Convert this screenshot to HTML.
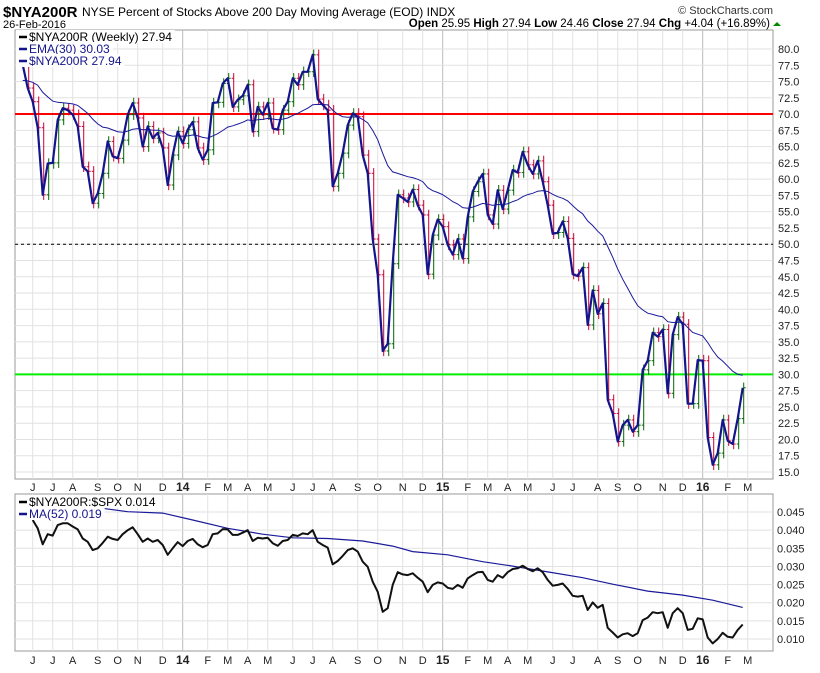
<!DOCTYPE html>
<html><head><meta charset="utf-8"><style>
body{margin:0;background:#fff;width:820px;height:668px;overflow:hidden;font-family:"Liberation Sans",sans-serif}
svg text{font-family:"Liberation Sans",sans-serif}
</style></head><body>
<svg id="c" width="820" height="668" xmlns="http://www.w3.org/2000/svg">
<text x="3" y="17" font-size="15" font-weight="bold">$NYA200R</text>
<text x="82" y="16" font-size="12">NYSE Percent of Stocks Above 200 Day Moving Average (EOD) INDX</text>
<text x="3" y="28" font-size="11">26-Feb-2016</text>
<text x="773" y="14" font-size="11" text-anchor="end" fill="#333">© StockCharts.com</text>
<text x="770" y="27" font-size="11.5" text-anchor="end"><tspan font-weight="bold">Open</tspan> 25.95 <tspan font-weight="bold">High</tspan> 27.94 <tspan font-weight="bold">Low</tspan> 24.46 <tspan font-weight="bold">Close</tspan> 27.94 <tspan font-weight="bold">Chg</tspan> +4.04 (+16.89%)</text>
<polygon points="773,26 777,22 781,26" fill="#080"/>
<g id="main"></g><g id="low"></g>
</svg>
<script>
const closes=[77.6,74.0,71.9,67.9,57.6,62.4,62.5,69.1,70.9,70.6,69.9,68.1,61.9,61.2,56.3,57.8,60.9,65.8,63.5,63.2,66.0,69.9,71.7,69.4,65.0,68.1,66.3,67.1,64.8,59.1,63.7,67.3,65.5,67.6,68.8,64.8,
63.0,64.5,71.7,71.8,74.7,75.5,71.1,72.2,72.8,74.5,67.3,71.1,69.9,71.7,67.8,67.6,70.6,71.9,75.5,74.5,76.5,76.5,79.1,72.3,71.4,70.6,58.9,60.9,64.0,68.3,70.1,69.6,63.7,60.9,50.8,
45.3,33.6,34.7,47.0,57.6,57.1,56.5,58.4,56.0,54.5,45.4,51.4,53.8,52.7,49.9,48.4,50.8,47.8,54.2,58.1,59.6,60.8,54.5,53.1,58.3,55.4,58.3,61.4,61.0,64.2,62.2,60.8,62.8,59.6,56.0,51.6,51.8,
53.5,50.9,45.4,45.1,46.4,37.6,42.9,39.3,40.9,26.1,24.0,19.7,22.2,23.0,21.2,22.2,30.7,32.1,36.4,35.8,36.9,27.1,36.1,38.8,37.7,25.5,25.5,32.2,32.1,
20.3,16.1,17.9,23.0,19.8,19.3,23.2,27.94];
const ratio=[null,null,.0428,.0405,.0361,.0389,.0385,.0414,.0419,.0419,.0410,.0402,.0377,.0368,.0345,.0350,.0365,.0382,.0376,.0373,.0389,.0400,.0408,.0389,.0368,.0377,.0368,.0373,.0359,.0332,.0350,.0367,.0356,.0370,.0376,.0361,.0353,.0359,.0389,.0391,.0403,.0402,.0387,.0387,.0393,.0400,.0370,.0379,.0377,.0379,.0364,.0357,.0370,.0373,.0387,.0384,.0391,.0389,.0400,.0368,.0359,.0352,.0306,.0315,.0329,.0345,.0350,.0341,.0313,.0299,.0258,.0230,.0175,.0185,
.0249,.0284,.0278,.0276,.0281,.0269,.0258,.0229,.0249,.0256,.0253,.0241,.0238,.0249,.0241,.0267,.0276,.0284,.0285,.0263,.0258,.0276,.0269,.0284,.0293,.0295,.0302,.0293,.0287,.0295,.0284,.0263,.0247,.0249,.0253,.0238,.0219,.0217,.0219,.0180,.0201,.0186,.0194,.0131,.0118,.0104,.0113,.0116,.0108,.0116,.0152,.0159,.0174,.0171,.0174,.0131,.0171,.0185,.0171,.0125,.0128,.0157,.0154,.0104,.0088,.0100,.0117,.0106,.0104,.0125,.0140];
const maIdx=[15,21,28,34,41,48,54,61,68,74,78,85,92,98,105,112,118,125,132,138,144];
const maVal=[.0462,.0451,.0447,.0428,.0405,.0389,.0379,.0377,.0370,.0356,.0341,.0332,.0313,.0301,.0285,.0269,.0251,.0232,.0221,.0207,.0187];
const mainTicks=[15,17.5,20,22.5,25,27.5,30,32.5,35,37.5,40,42.5,45,47.5,50,52.5,55,57.5,60,62.5,65,67.5,70,72.5,75,77.5,80];
const lowTicks=[.010,.015,.020,.025,.030,.035,.040,.045];
const monthLetters=["J","F","M","A","M","J","J","A","S","O","N","D"];
const NS="http://www.w3.org/2000/svg";
const L=15,R=773,MT=30,MB=479,LT=494,LB=651;
const N=closes.length;
const xs=i=>22.7+i*(720/(N-1));
const ym=v=>472-(v-15)/2.5*16.27;
const yl=v=>639-(v-0.010)/0.005*18.14;
function el(p,t,a){const e=document.createElementNS(NS,t);for(const k in a)e.setAttribute(k,a[k]);p.appendChild(e);return e;}
const gM=document.getElementById('main'),gL=document.getElementById('low');
const f1=el(gM,'rect',{x:L,y:MT,width:R-L,height:MB-MT,fill:'#fff',stroke:'#999'});


const f2=el(gL,'rect',{x:L,y:LT,width:R-L,height:LB-LT,fill:'#fff',stroke:'#999'});


const end=new Date(2016,1,26);
let prevM=-1;
for(let i=0;i<N+4;i++){
  const d=new Date(end.getTime()-(N-1-i)*7*86400000);
  const m=d.getMonth();
  if(prevM!==-1&&m!==prevM){
    const x=xs(i);const yr=m===0;
    const lab=yr?String(d.getFullYear()).slice(2):monthLetters[m];
    for(const [g,t,b,ly] of [[gM,MT,MB,491],[gL,LT,LB,664]]){
      const ln=el(g,'line',{x1:x,x2:x,y1:t,y2:b,stroke:yr?'#bbb':'#e2e2e2'});
      
      
      const tx=el(g,'text',{x:x,y:ly,'font-size':yr?12:11,'font-weight':yr?'bold':'normal','text-anchor':'middle',fill:'#222'});
      tx.textContent=lab;
      
      
    }
  }
  prevM=m;
}
mainTicks.forEach(v=>{
  const y=ym(v);
  const ln=el(gM,'line',{x1:L,x2:R,y1:y,y2:y,stroke:'#e2e2e2'});
  
  
  const t=el(gM,'text',{x:778,y:y+4,'font-size':11,fill:'#222'});
  t.textContent=v.toFixed(1);
  
  
});
lowTicks.forEach(v=>{
  const y=yl(v);
  const ln=el(gL,'line',{x1:L,x2:R,y1:y,y2:y,stroke:'#e2e2e2'});
  
  
  const t=el(gL,'text',{x:777,y:y+4,'font-size':11,fill:'#222'});
  t.textContent=v.toFixed(3);
  
  
});
const r70=el(gM,'line',{x1:L,x2:R,y1:ym(70),y2:ym(70),stroke:'#f00','stroke-width':2});


const r30=el(gM,'line',{x1:L,x2:R,y1:ym(30),y2:ym(30),stroke:'#0e0','stroke-width':2});


const r50=el(gM,'line',{x1:L,x2:R,y1:ym(50),y2:ym(50),stroke:'#000','stroke-dasharray':'3,3'});


for(let i=0;i<N;i++){
  const c=closes[i],o=i>0?closes[i-1]:c;
  const up=c>=o;const col=up?'#006600':'#cc0033';
  const hi=Math.max(o,c)+0.8,lo=Math.min(o,c)-0.8;
  const x=xs(i)+1;
  const g=el(gM,'g',{stroke:col,'stroke-width':1});
  
  
  el(g,'line',{x1:x,x2:x,y1:ym(hi),y2:ym(lo)});
  el(g,'line',{x1:x-2,x2:x,y1:ym(o),y2:ym(o)});
  el(g,'line',{x1:x,x2:x+2,y1:ym(c),y2:ym(c)});
}
let ema=75;const ep=[];
closes.forEach((c,i)=>{ema=ema+(c-ema)*2/31;ep.push(xs(i).toFixed(1)+','+ym(ema).toFixed(1));});
const pe=el(gM,'polyline',{points:ep.join(' '),fill:'none',stroke:'#1a1a9a','stroke-width':1});


const pc=el(gM,'polyline',{points:closes.map((c,i)=>xs(i).toFixed(1)+','+ym(c).toFixed(1)).join(' '),fill:'none',stroke:'#14148c','stroke-width':2.2,'stroke-linejoin':'round'});


const pm=el(gL,'polyline',{points:maIdx.map((k,j)=>xs(k).toFixed(1)+','+yl(maVal[j]).toFixed(1)).join(' '),fill:'none',stroke:'#1a1a9a','stroke-width':1.2});


const rp=[];ratio.forEach((v,i)=>{if(v!==null)rp.push(xs(i).toFixed(1)+','+yl(v).toFixed(1));});
const pr=el(gL,'polyline',{points:rp.join(' '),fill:'none',stroke:'#111','stroke-width':2,'stroke-linejoin':'round'});


function leg(g,y,col,txt,name){
  const b=el(g,'rect',{x:16,y:y-11,width:10,height:13,fill:'#fff'});
  
  
  const l=el(g,'line',{x1:19,x2:27,y1:y-4,y2:y-4,stroke:col,'stroke-width':2.5});
  
  
  const t=el(g,'text',{x:29,y:y,'font-size':12,fill:col});
  t.textContent=txt;
  
  
  b.setAttribute('width',t.getComputedTextLength()+16);
}
leg(gM,41,'#000','$NYA200R (Weekly) 27.94','legend-price');
leg(gM,53,'#14148c','EMA(30) 30.03','legend-ema');
leg(gM,65,'#14148c','$NYA200R 27.94','legend-close');
leg(gL,506,'#000','$NYA200R:$SPX 0.014','legend-ratio');
leg(gL,518,'#14148c','MA(52) 0.019','legend-ma52');
</script>
</body></html>
